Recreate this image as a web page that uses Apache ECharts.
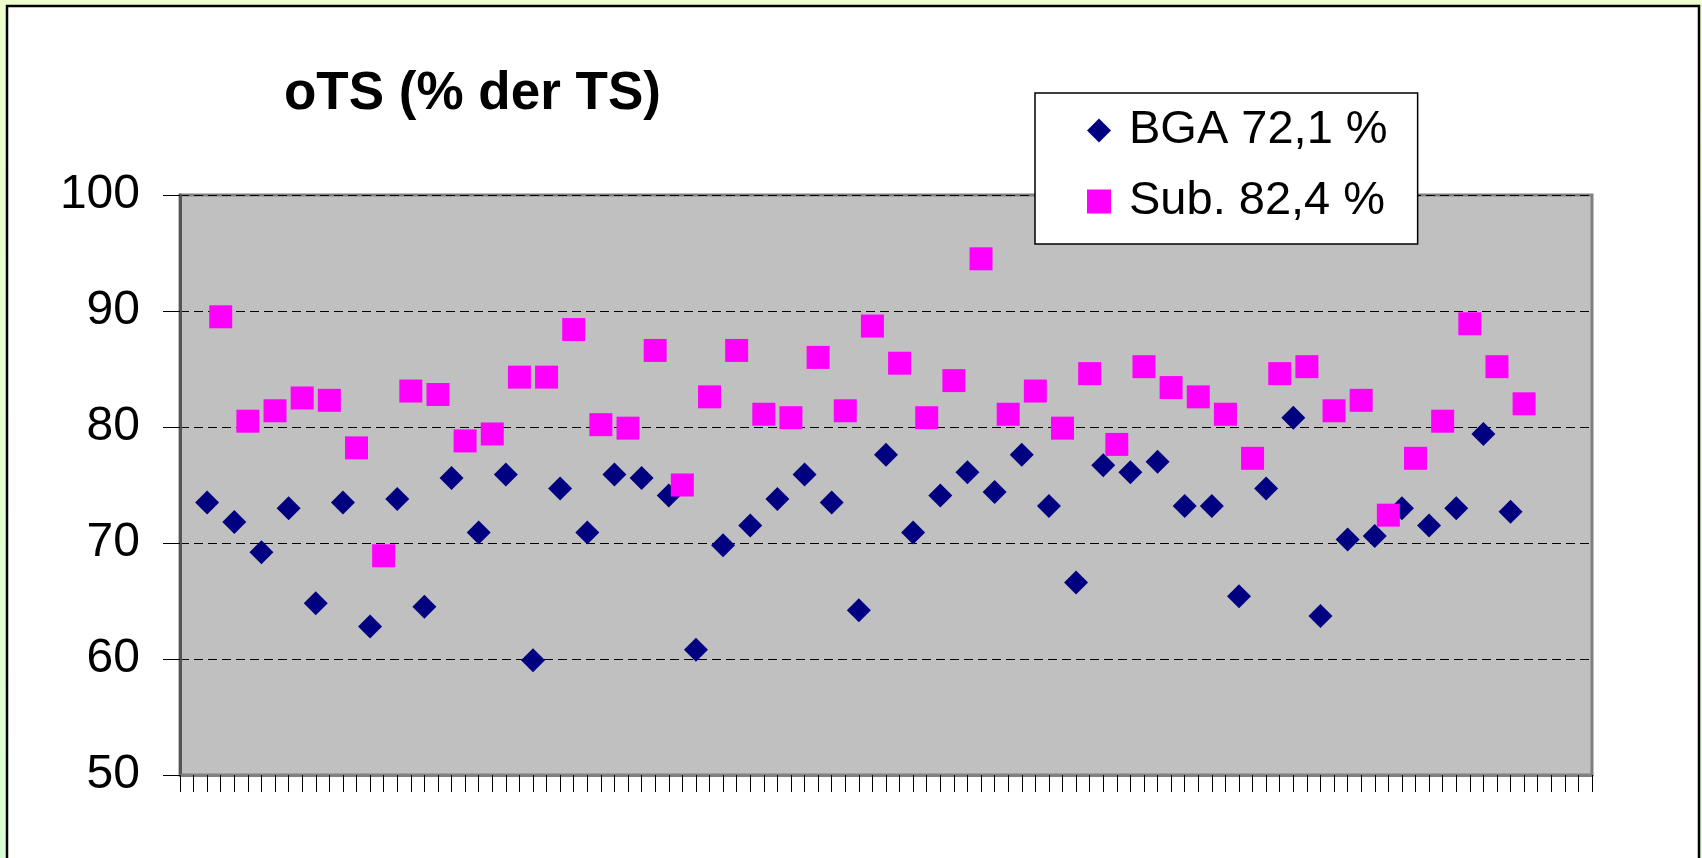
<!DOCTYPE html>
<html>
<head>
<meta charset="utf-8">
<script src="https://cdn.jsdelivr.net/npm/echarts@6/dist/echarts.min.js"></script>
<style>
  html, body { margin: 0; padding: 0; }
  body { background: linear-gradient(to bottom, #EEFFCC, #DBFFD6); }
  #main { width: 1702px; height: 858px; }
</style>
</head>
<body>
<div id="main"></div>
<script>
// oTS in % der TS, BGA und Substrat je Probe
const bgaName = "BGA 72,1 %";
const subName = "Sub. 82,4 %";

const bgaPos = [2, 4, 6, 8, 10, 12, 14, 16, 18, 20, 22, 24, 26, 28, 30, 32, 34, 36, 38, 40,
  42, 44, 46, 48, 50, 52, 54, 56, 58, 60, 62, 64, 66, 68, 70, 72, 74, 76, 78, 80,
  82, 84, 86, 88, 90, 92, 94, 96, 98];
const bgaValues = [73.5, 71.8, 69.2, 73.0, 64.8, 73.5, 62.8, 73.8, 64.5, 75.6,
  70.9, 75.9, 59.9, 74.7, 70.9, 75.9, 75.6, 74.1, 60.8, 69.8,
  71.5, 73.8, 75.9, 73.5, 64.2, 77.6, 70.9, 74.1, 76.1, 74.4,
  77.6, 73.2, 66.6, 76.7, 76.1, 77.0, 73.2, 73.2, 65.4, 74.7,
  80.8, 63.7, 70.3, 70.6, 73.0, 71.5, 73.0, 79.4, 72.7];

const subPos = [3, 5, 7, 9, 11, 13, 15, 17, 19, 21, 23, 25, 27, 29, 31, 33, 35, 37, 39, 41,
  43, 45, 47, 49, 51, 53, 55, 57, 59, 61, 63, 65, 67, 69, 71, 73, 75, 77, 79, 81,
  83, 85, 87, 89, 91, 93, 95, 97, 99];
const subValues = [89.5, 80.5, 81.4, 82.5, 82.3, 78.2, 68.9, 83.1, 82.8, 78.8,
  79.4, 84.3, 84.3, 88.4, 80.2, 79.9, 86.6, 75.0, 82.6, 86.6,
  81.1, 80.8, 86.0, 81.4, 88.7, 85.5, 80.8, 84.0, 94.5, 81.1,
  83.1, 79.9, 84.6, 78.5, 85.2, 83.4, 82.6, 81.1, 77.3, 84.6,
  85.2, 81.4, 82.3, 72.4, 77.3, 80.5, 88.9, 85.2, 82.0];

const yTicks = [50, 60, 70, 80, 90, 100];

const font = "'Liberation Sans', Arial, sans-serif";
const chart = echarts.init(document.getElementById("main"));

const option = {
  animation: false,
  graphic: [
    {
      type: "rect",
      z: -10,
      shape: { x: 7, y: 6, width: 1692, height: 900 },
      style: { fill: "#ffffff", stroke: "#000000", lineWidth: 2.5 }
    }
  ],
  title: {
    text: "oTS (% der TS)",
    left: 279,
    top: 63,
    textStyle: { fontFamily: font, fontSize: 53, fontWeight: "bold", color: "#000" }
  },
  legend: {
    orient: "vertical",
    left: 1035,
    top: 93,
    padding: [14, 30, 19, 52],
    itemGap: 24,
    itemWidth: 24,
    itemHeight: 24,
    backgroundColor: "#ffffff",
    borderColor: "#000000",
    borderWidth: 1.5,
    data: [
      { name: bgaName, icon: "diamond" },
      { name: subName, icon: "rect" }
    ],
    textStyle: { fontFamily: font, fontSize: 47, lineHeight: 47, color: "#000", padding: [0, 0, 0, 13] }
  },
  grid: {
    left: 180,
    top: 195,
    width: 1412,
    height: 580,
    show: true,
    backgroundColor: "#C0C0C0",
    borderColor: "#808080",
    borderWidth: 3
  },
  xAxis: {
    type: "value",
    min: 0,
    max: 104,
    interval: 1,
    axisLine: { lineStyle: { color: "#808080", width: 3 } },
    axisTick: { length: 17, lineStyle: { color: "#000", width: 1 } },
    axisLabel: { show: false },
    splitLine: { show: false }
  },
  yAxis: {
    type: "value",
    min: yTicks[0],
    max: yTicks[yTicks.length - 1],
    interval: 10,
    axisLine: { show: true, lineStyle: { color: "#555555", width: 3 } },
    axisTick: { show: true, length: 17, lineStyle: { color: "#000", width: 1 } },
    axisLabel: { margin: 40, fontFamily: font, fontSize: 48, color: "#000" },
    splitLine: { lineStyle: { color: "#000", width: 1, type: [9, 5] } }
  },
  series: [
    {
      name: bgaName,
      type: "scatter",
      symbol: "diamond",
      symbolSize: 24,
      itemStyle: { color: "#000080", opacity: 1 },
      data: bgaPos.map((x, i) => [x, bgaValues[i]])
    },
    {
      name: subName,
      type: "scatter",
      symbol: "rect",
      symbolSize: 23,
      itemStyle: { color: "#FF00FF", opacity: 1 },
      data: subPos.map((x, i) => [x, subValues[i]])
    }
  ]
};

chart.setOption(option);
</script>
</body>
</html>
